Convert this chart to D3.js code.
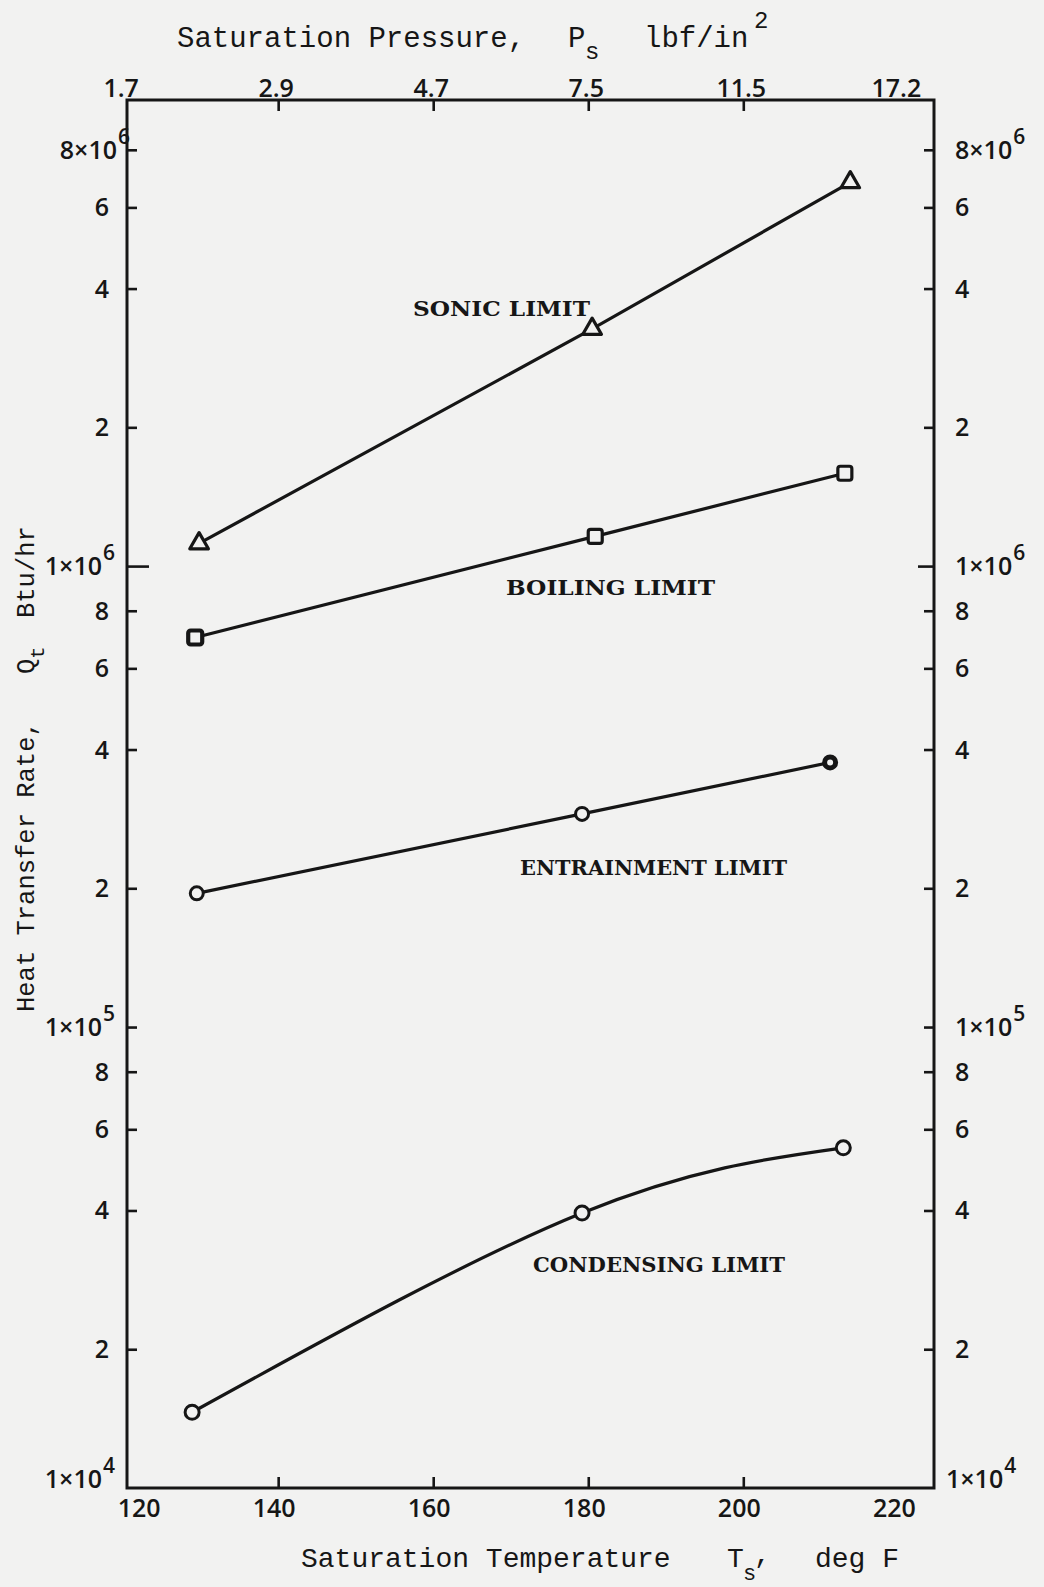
<!DOCTYPE html>
<html>
<head>
<meta charset="utf-8">
<script src="https://cdn.jsdelivr.net/npm/d3@7"></script>
<style>
  html, body { margin: 0; padding: 0; background: #f2f2f1; }
  svg { display: block; }
</style>
</head>
<body>
<svg id="chart" width="1044" height="1587"></svg>
<script>
// Heat pipe operating limits vs saturation temperature (deg F), heat transfer rate in Btu/hr
const sonicT = [129.8, 180.5, 213.8];
const sonicQ = [1.12e6, 3.27e6, 6.8e6];
const boilingT = [129.3, 180.9, 213.1];
const boilingQ = [7.0e5, 1.16e6, 1.59e6];
const entrainT = [129.5, 179.2, 211.2];
const entrainQ = [1.95e5, 2.9e5, 3.75e5];
const condenseT = [128.9, 179.2, 212.9];
const condenseQ = [1.46e4, 3.95e4, 5.47e4];

// bottom axis temperatures and the matching saturation pressures shown on the top axis
const tempTicks = [120, 140, 160, 180, 200, 220];
const pressureLabels = ["1.7", "2.9", "4.7", "7.5", "11.5", "17.2"];
// log axis tick values
const qTicks = [1e4, 2e4, 4e4, 6e4, 8e4, 1e5, 2e5, 4e5, 6e5, 8e5, 1e6, 2e6, 4e6, 6e6, 8e6];

const seriesNames = ["SONIC LIMIT", "BOILING LIMIT", "ENTRAINMENT LIMIT", "CONDENSING LIMIT"];

const ink = "#161616";
const paper = "#f2f2f1";
const svg = d3.select("#chart");
svg.append("rect").attr("width", 1044).attr("height", 1587).attr("fill", paper);

const x = d3.scaleLinear().domain([120.5, 224.6]).range([127, 934]);
const y = d3.scaleLog().domain([1e4, 1.026e7]).range([1488, 100]);
const [xL, xR] = x.range();
const [yB, yT] = y.range();

const numFont = "'Open Sans', 'DejaVu Sans', sans-serif";
const typeFont = "'Liberation Mono', 'DejaVu Sans Mono', monospace";
const boldType = "'DejaVu Serif', serif";

// ---- ticks (all pointing into the plot) ----
const innerQ = qTicks.filter(v => v > 1e4);
const gL = svg.append("g").attr("transform", `translate(${xL},0)`)
  .call(d3.axisRight(y).tickValues(innerQ).tickSize(10).tickSizeOuter(0).tickFormat(""));
const gR = svg.append("g").attr("transform", `translate(${xR},0)`)
  .call(d3.axisLeft(y).tickValues(innerQ).tickSize(10).tickSizeOuter(0).tickFormat(""));
const innerT = tempTicks.filter(t => t > 120 && t < 220);
const gT = svg.append("g").attr("transform", `translate(0,${yT})`)
  .call(d3.axisBottom(x).tickValues(innerT).tickSize(11).tickSizeOuter(0).tickFormat(""));
const gB = svg.append("g").attr("transform", `translate(0,${yB})`)
  .call(d3.axisTop(x).tickValues(innerT).tickSize(11).tickSizeOuter(0).tickFormat(""));
[gL, gR, gT, gB].forEach(g => {
  g.select(".domain").remove();
  g.selectAll(".tick line").attr("stroke", ink).attr("stroke-width", 2.6);
});
gL.selectAll(".tick line").attr("x2", d => d === 1e6 ? 22 : 10);
gR.selectAll(".tick line").attr("x2", d => d === 1e6 ? -16 : -10);

// ---- frame ----
svg.append("path")
  .attr("d", `M${xL},${yT}H${xR}V${yB}H${xL}Z`)
  .attr("fill", "none").attr("stroke", ink).attr("stroke-width", 3);

// ---- y tick labels, both sides ----
function qLabel(g, v, side) {
  const e = Math.floor(Math.log10(v) + 1e-9);
  const m = Math.round(v / Math.pow(10, e));
  const isDecade = m === 1;
  const isTop = v === qTicks[qTicks.length - 1];
  let yy = y(v) + 9;
  if (v === 1e4) yy -= 9;
  const withExp = isDecade || isTop;
  const base = withExp ? `${m}×10` : `${m}`;
  if (side === "left") {
    if (withExp) {
      const endX = isTop ? xL - 10 : xL - 25;
      g.append("text").attr("x", endX).attr("y", yy).attr("text-anchor", "end").text(base);
      g.append("text").attr("x", endX + 1).attr("y", yy - 15).attr("font-size", 21).text(e);
    } else {
      g.append("text").attr("x", xL - 18).attr("y", yy).attr("text-anchor", "end").text(base);
    }
  } else {
    const sx = v === 1e4 ? xR + 12 : xR + 21;
    const t = g.append("text").attr("x", sx).attr("y", yy).text(base);
    if (withExp) {
      const w = t.node().getComputedTextLength();
      g.append("text").attr("x", sx + w + 1).attr("y", yy - 15).attr("font-size", 21).text(e);
    }
  }
}
const gLabels = svg.append("g").attr("font-family", numFont).attr("font-weight", 600)
  .attr("font-size", 25).attr("fill", ink);
qTicks.forEach(v => { qLabel(gLabels, v, "left"); qLabel(gLabels, v, "right"); });

// ---- x tick labels ----
tempTicks.forEach(t => {
  gLabels.append("text")
    .attr("x", x(t) + (t === 120 ? 16 : -4)).attr("y", 1517)
    .attr("text-anchor", "middle").text(t);
});
tempTicks.forEach((t, i) => {
  gLabels.append("text")
    .attr("x", x(t) - 2).attr("y", 97)
    .attr("text-anchor", "middle").text(pressureLabels[i]);
});

// ---- axis titles ----
const gTitle = svg.append("g").attr("font-family", typeFont).attr("font-size", 29).attr("fill", ink);
gTitle.append("text").attr("x", 177).attr("y", 47).text("Saturation Pressure,");
gTitle.append("text").attr("x", 568).attr("y", 47).text("P");
gTitle.append("text").attr("x", 585).attr("y", 59).attr("font-size", 24).text("s");
gTitle.append("text").attr("x", 644).attr("y", 47).text("lbf/in");
gTitle.append("text").attr("x", 754).attr("y", 28).attr("font-size", 24).text("2");

const gX = gTitle.append("g").attr("font-size", 28);
gX.append("text").attr("x", 301).attr("y", 1567).text("Saturation Temperature");
gX.append("text").attr("x", 727).attr("y", 1567).text("T");
gX.append("text").attr("x", 743).attr("y", 1580).attr("font-size", 22).text("s");
gX.append("text").attr("x", 754).attr("y", 1563).text(",");
gX.append("text").attr("x", 815).attr("y", 1567).text("deg F");

const gY = gTitle.append("g").attr("font-size", 25.5).attr("transform", "translate(34,0) rotate(-90)");
gY.append("text").attr("x", -1012).attr("y", 0).text("Heat Transfer Rate,");
gY.append("text").attr("x", -674).attr("y", 0).text("Q");
gY.append("text").attr("x", -659).attr("y", 10).attr("font-size", 21).text("t");
gY.append("text").attr("x", -618).attr("y", 0).text("Btu/hr");

// ---- curves ----
const series = [
  { T: sonicT, Q: sonicQ, curve: d3.curveLinear },
  { T: boilingT, Q: boilingQ, curve: d3.curveLinear },
  { T: entrainT, Q: entrainQ, curve: d3.curveLinear },
  { T: condenseT, Q: condenseQ, curve: d3.curveNatural }
].map(s => ({ ...s, pts: s.T.map((t, i) => ({ t, q: s.Q[i] })) }));

series.forEach(s => {
  svg.append("path")
    .attr("d", d3.line().x(d => x(d.t)).y(d => y(d.q)).curve(s.curve)(s.pts))
    .attr("fill", "none").attr("stroke", ink).attr("stroke-width", 3.2)
    .attr("stroke-linecap", "round");
});

// markers: triangles (sonic), squares (boiling), circles (entrainment, condensing)
const gM = svg.append("g").attr("stroke", ink).attr("fill", paper);
series[0].pts.forEach(d => {
  gM.append("path").attr("transform", `translate(${x(d.t)},${y(d.q)})`)
    .attr("d", d3.symbol(d3.symbolTriangle, 150)()).attr("stroke-width", 3.2)
    .attr("stroke-linejoin", "round");
});
series[1].pts.forEach((d, i) => {
  gM.append("rect").attr("x", x(d.t) - 7).attr("y", y(d.q) - 7)
    .attr("width", 14).attr("height", 14).attr("rx", 2.5)
    .attr("stroke-width", i === 0 ? 4.2 : 3.2);
});
series[2].pts.forEach((d, i) => {
  gM.append("circle").attr("cx", x(d.t)).attr("cy", y(d.q))
    .attr("r", i === 2 ? 5.5 : 6.5).attr("stroke-width", i === 2 ? 5 : 3);
});
series[3].pts.forEach(d => {
  gM.append("circle").attr("cx", x(d.t)).attr("cy", y(d.q))
    .attr("r", 7).attr("stroke-width", 3);
});

// ---- curve names ----
const namePos = [
  { x: 413, y: 316, len: 177 },
  { x: 506, y: 595, len: 209 },
  { x: 520, y: 875, len: 267 },
  { x: 533, y: 1272, len: 252 }
];
const gN = svg.append("g").attr("font-family", boldType).attr("font-weight", "bold")
  .attr("font-size", 21).attr("fill", ink);
seriesNames.forEach((n, i) => {
  gN.append("text").attr("x", namePos[i].x).attr("y", namePos[i].y)
    .attr("textLength", namePos[i].len).attr("lengthAdjust", "spacingAndGlyphs").text(n);
});
</script>
</body>
</html>
